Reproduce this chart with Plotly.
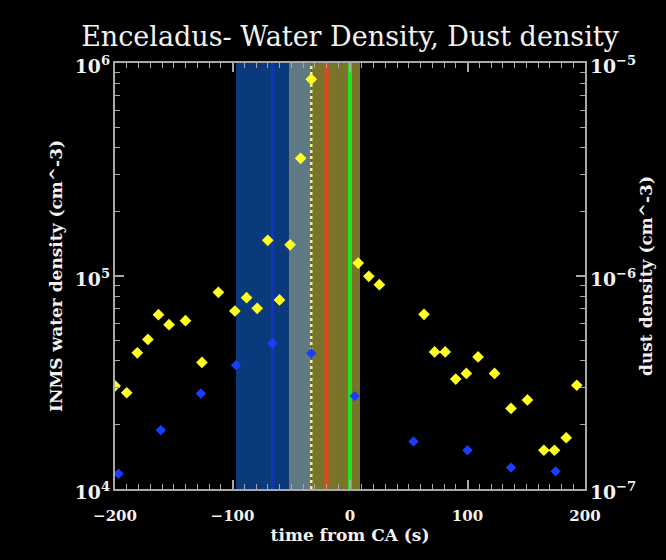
import plotly.graph_objects as go

# INMS water density samples (time from closest approach in s, density in cm^-3)
water_t = [-200, -190, -181, -172, -163, -154, -140, -126, -112, -98, -88, -79,
           -70, -60, -51, -42, -33, 7, 16, 25, 63, 72, 81, 90, 99, 109, 123,
           137, 151, 165, 174, 184, 193]
water_n = [3.05e4, 2.83e4, 4.36e4, 5.04e4, 6.58e4, 5.91e4, 6.17e4, 3.93e4,
           8.38e4, 6.85e4, 7.91e4, 7.05e4, 1.47e5, 7.72e4, 1.40e5, 3.57e5,
           8.38e5, 1.15e5, 9.97e4, 9.10e4, 6.61e4, 4.40e4, 4.40e4, 3.28e4,
           3.49e4, 4.17e4, 3.49e4, 2.39e4, 2.62e4, 1.52e4, 1.52e4, 1.74e4,
           3.07e4]

# Dust density samples (time from CA in s, density in cm^-3)
dust_t = [-197, -161, -127, -97, -66, -33, 4, 54, 100, 137, 175]
dust_n = [1.18e-7, 1.89e-7, 2.81e-7, 3.81e-7, 4.83e-7, 4.34e-7, 2.73e-7,
          1.67e-7, 1.52e-7, 1.26e-7, 1.21e-7]

# Time intervals (s) highlighted behind the data
blue_span = (-97, -52)
grey_span = (-52, -33)
olive_span = (-33, 8.5)
blue_line_t = -66
dotted_line_t = -33
red_line_t = -20
green_line_t = 0

x_ticks = [-200, -100, 0, 100, 200]
x_tick_text = ["\u2212200", "\u2212100", "0", "100", "200"]

axis_col = "#a8a8a8"
txt_col = "#f2f2f2"
tick_font = dict(family="DejaVu Serif", size=15, color=txt_col, weight="bold")
title_font = dict(family="DejaVu Serif", size=17, color=txt_col)

fig = go.Figure()

fig.add_trace(go.Scatter(
    x=water_t, y=water_n, mode="markers", yaxis="y",
    marker=dict(symbol="diamond", size=9, color="#ffff22", line=dict(width=0)),
    showlegend=False))

fig.add_trace(go.Scatter(
    x=dust_t, y=dust_n, mode="markers", yaxis="y2",
    marker=dict(symbol="diamond", size=8, color="#1a3cff", line=dict(width=0)),
    showlegend=False))

shapes = []
for (a, b), col in [(blue_span, "#0b3a7c"), (grey_span, "#5f7985"), (olive_span, "#78752a")]:
    shapes.append(dict(type="rect", xref="x", yref="paper", x0=a, x1=b, y0=0, y1=1,
                       fillcolor=col, line=dict(width=0), layer="below"))
for t, col, w, dash in [(blue_line_t, "#1432c8", 3, "solid"),
                        (red_line_t, "#e8431a", 4, "solid"),
                        (green_line_t, "#22e022", 4, "solid"),
                        (dotted_line_t, "#f4f0a0", 2.5, "dot")]:
    shapes.append(dict(type="line", xref="x", yref="paper", x0=t, x1=t, y0=0, y1=1,
                       line=dict(color=col, width=w, dash=dash), layer="below"))

common_axis = dict(ticks="inside", ticklen=9, tickwidth=1.5, tickcolor=axis_col,
                   showline=True, linecolor=axis_col, linewidth=2,
                   showgrid=False, zeroline=False, tickfont=tick_font, automargin=False)
log_minor = dict(dtick="D1", ticks="inside", ticklen=5, tickcolor=axis_col, tickwidth=1)

fig.update_layout(
    width=666, height=560,
    margin=dict(l=115, r=81, t=63, b=71),
    paper_bgcolor="black", plot_bgcolor="black",
    shapes=shapes,
    title=dict(text="Enceladus- Water Density, Dust density",
               font=dict(family="DejaVu Serif", size=27, color=txt_col),
               x=0.5, xref="paper", xanchor="center",
               y=1 - 37 / 560, yref="container", yanchor="middle"),
    xaxis=dict(range=[-200, 200], tickvals=x_ticks, ticktext=x_tick_text,
               minor=dict(dtick=10, ticks="inside", ticklen=5, tickcolor=axis_col, tickwidth=1),
               mirror="ticks", ticklabelstandoff=12,
               title=dict(text="<b>time from CA (s)</b>", font=title_font, standoff=1),
               **common_axis),
    yaxis=dict(type="log", range=[4, 6], dtick=1, exponentformat="power",
               minor=log_minor, ticklabelshift=3,
               title=dict(text="<b>INMS water density (cm^-3)</b>", font=title_font, standoff=8),
               **common_axis),
    yaxis2=dict(type="log", range=[-7, -5], dtick=1, exponentformat="power",
                overlaying="y", side="right", minor=log_minor, ticklabelshift=3,
                title=dict(text="<b>dust density (cm^-3)</b>", font=title_font, standoff=4),
                **common_axis),
)

fig.write_html("out.html")
